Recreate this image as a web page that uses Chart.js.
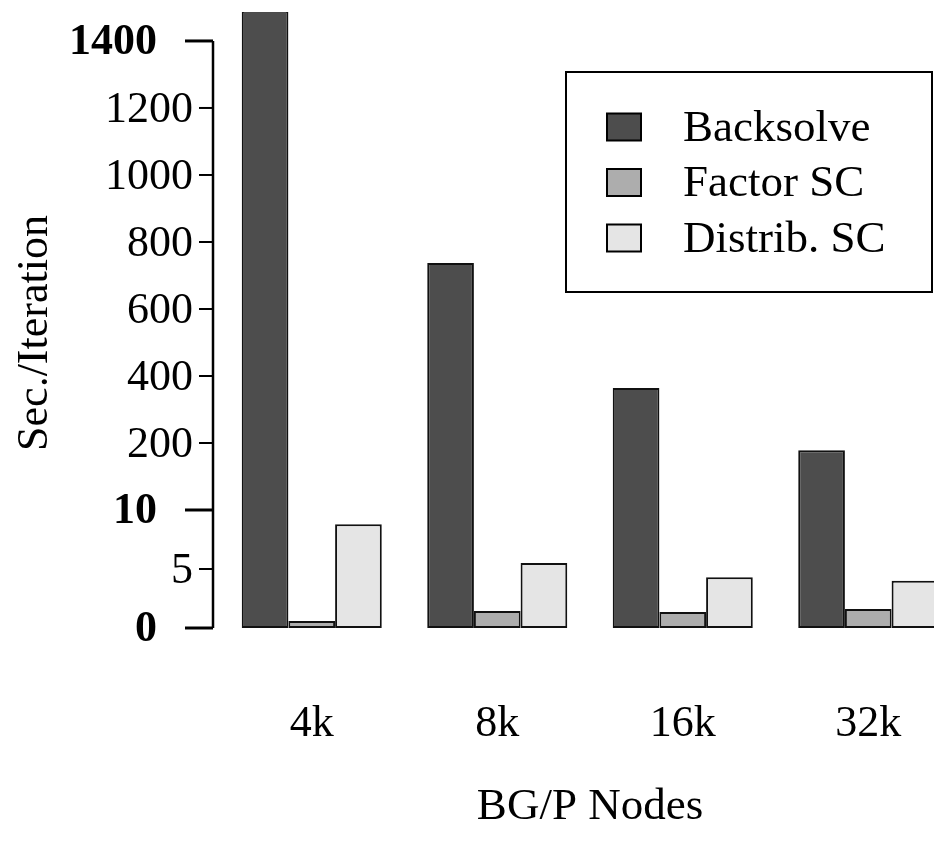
<!DOCTYPE html>
<html>
<head>
<meta charset="utf-8">
<script src="https://cdn.jsdelivr.net/npm/chart.js@4"></script>
<style>
  html, body { margin: 0; padding: 0; overflow: hidden; background: #fff; }
</style>
</head>
<body>
<canvas id="c" width="980" height="858"></canvas>
<script>
// data
const nodes = ["4k", "8k", "16k", "32k"];
const backsolve = [1490, 737, 364, 178];
const factorSC = [0.6, 1.45, 1.35, 1.6];
const distribSC = [8.8, 5.5, 4.3, 4.0];
const lowerTicks = [0, 5, 10];
const upperTicks = [200, 400, 600, 800, 1000, 1200, 1400];
const boldTicks = ["0", "10", "1400"];

// broken axis: 0..10 at the bottom, the big backsolve values stacked above 10
const BREAK = 10;
const UPPER_SCALE = (67 / 200) / 11.8;
const upper = v => BREAK + v * UPPER_SCALE;

const FONT = "'Liberation Serif', 'DejaVu Serif', serif";

const brokenAxis = {
  id: "brokenAxis",
  afterDraw(chart) {
    const ctx = chart.ctx;
    const y = chart.scales.y;
    const ax = 213;
    const ticks = lowerTicks.map(v => ({ pos: v, label: String(v) }))
      .concat(upperTicks.map(v => ({ pos: upper(v), label: String(v) })));
    ctx.save();
    ctx.strokeStyle = "#000";
    ctx.fillStyle = "#000";
    ctx.lineWidth = 2.5;
    ctx.beginPath();
    ctx.moveTo(ax, y.getPixelForValue(upper(1400)));
    ctx.lineTo(ax, y.getPixelForValue(0));
    ctx.stroke();
    ctx.textAlign = "right";
    ctx.textBaseline = "middle";
    ticks.forEach(t => {
      const py = y.getPixelForValue(t.pos);
      const bold = boldTicks.includes(t.label);
      const len = bold ? 28 : 14;
      ctx.lineWidth = bold ? 3 : 2;
      ctx.beginPath();
      ctx.moveTo(ax - len, py);
      ctx.lineTo(ax, py);
      ctx.stroke();
      ctx.font = (bold ? "bold " : "") + "44px " + FONT;
      ctx.fillText(t.label, bold ? ax - 56 : ax - 20, py + 2);
    });
    // y title
    ctx.font = "44px " + FONT;
    ctx.textAlign = "center";
    ctx.translate(35, 333);
    ctx.rotate(-Math.PI / 2);
    ctx.fillText("Sec./Iteration", 0, 0);
    ctx.restore();
  }
};

const boxLegend = {
  id: "boxLegend",
  afterDraw(chart) {
    const ctx = chart.ctx;
    ctx.save();
    ctx.lineWidth = 2;
    ctx.strokeStyle = "#000";
    ctx.strokeRect(566, 72, 366, 220);
    ctx.font = "45px " + FONT;
    ctx.textAlign = "left";
    ctx.textBaseline = "middle";
    chart.data.datasets.forEach((ds, i) => {
      const ry = 127 + i * 55.5;
      ctx.fillStyle = ds.backgroundColor;
      ctx.fillRect(607, ry - 13.5, 34, 27);
      ctx.lineWidth = 2;
      ctx.strokeRect(607, ry - 13.5, 34, 27);
      ctx.fillStyle = "#000";
      ctx.fillText(ds.label, 683, ry + 2);
    });
    ctx.restore();
  }
};

new Chart(document.getElementById("c"), {
  type: "bar",
  data: {
    labels: nodes,
    datasets: [
      { label: "Backsolve", data: backsolve.map(upper), backgroundColor: "#4d4d4d" },
      { label: "Factor SC", data: factorSC, backgroundColor: "#adadad" },
      { label: "Distrib. SC", data: distribSC, backgroundColor: "#e5e5e5" }
    ].map(ds => Object.assign(ds, {
      borderColor: "#111",
      borderWidth: 2,
      borderSkipped: false,
      categoryPercentage: 0.755,
      barPercentage: 1
    }))
  },
  options: {
    responsive: false,
    animation: false,
    layout: { padding: { left: 219, right: 19, top: 12, bottom: 0 } },
    plugins: { legend: { display: false }, tooltip: { enabled: false } },
    scales: {
      y: { display: false, min: 0, max: 52.2 },
      x: {
        afterFit(scale) { scale.height = 230; },
        grid: { display: false, drawTicks: false },
        border: { display: false },
        ticks: {
          color: "#000",
          padding: 70,
          maxRotation: 0,
          autoSkip: false,
          font: { family: FONT, size: 44 }
        },
        title: {
          display: true,
          text: "BG/P Nodes",
          color: "#000",
          font: { family: FONT, size: 45 },
          padding: { top: 30, bottom: 24 }
        }
      }
    }
  },
  plugins: [brokenAxis, boxLegend]
});
</script>
</body>
</html>
